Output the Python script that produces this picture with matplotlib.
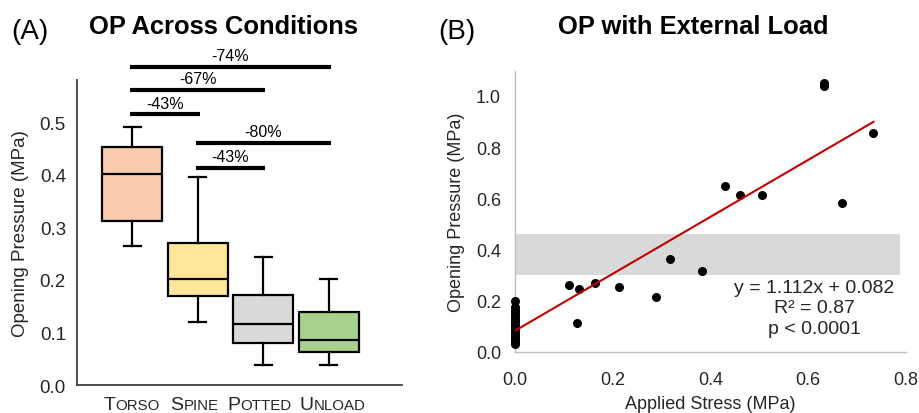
import matplotlib.pyplot as plt
from matplotlib.offsetbox import TextArea, HPacker, AnnotationBbox

plt.rcParams['font.family'] = ['Liberation Sans', 'DejaVu Sans']

# ---- panel A: box summaries ----
conditions = ["Torso", "Spine", "Potted", "Unload"]
box_colors = ["#F8CBAD", "#FFE699", "#D9D9D9", "#A9D18E"]
whislo = [0.264, 0.120, 0.038, 0.038]
q1 = [0.312, 0.169, 0.079, 0.063]
med = [0.402, 0.201, 0.116, 0.085]
q3 = [0.452, 0.271, 0.172, 0.138]
whishi = [0.491, 0.395, 0.243, 0.201]

# significance brackets: (from, to, height, label)
sig_from = [1, 1, 1, 2, 2]
sig_to = [4, 3, 2, 4, 3]
sig_y = [0.605, 0.561, 0.515, 0.460, 0.413]
sig_lab = ["-74%", "-67%", "-43%", "-80%", "-43%"]

# ---- panel B: scatter ----
stress = [0.632, 0.633, 0.734, 0.431, 0.460, 0.506, 0.669, 0.317, 0.383,
          0.110, 0.131, 0.164, 0.213, 0.289, 0.127,
          0, 0, 0, 0, 0, 0, 0, 0, 0, 0, 0, 0, 0, 0, 0, 0, 0, 0]
pressure = [1.049, 1.039, 0.854, 0.647, 0.613, 0.613, 0.583, 0.363, 0.316,
            0.260, 0.247, 0.270, 0.254, 0.212, 0.111,
            0.199, 0.175, 0.165, 0.155, 0.145, 0.135, 0.125, 0.115, 0.105,
            0.095, 0.085, 0.075, 0.068, 0.060, 0.052, 0.045, 0.038, 0.032]
slope, intercept = 1.112, 0.082
band = (0.30, 0.46)

fig = plt.figure(figsize=(9.19, 4.14), dpi=100)
axA = fig.add_axes([0.0838, 0.0676, 0.3536, 0.7367])
axB = fig.add_axes([0.5604, 0.148, 0.4251, 0.6787])

# --- A ---
stats = []
for i, name in enumerate(conditions):
    stats.append(dict(label=name, whislo=whislo[i], q1=q1[i], med=med[i],
                      q3=q3[i], whishi=whishi[i], fliers=[]))
bp = axA.bxp(stats, positions=[1, 2, 3, 4], widths=0.92, patch_artist=True,
             showfliers=False,
             boxprops=dict(linewidth=1.6, edgecolor='black'),
             medianprops=dict(color='black', linewidth=1.6),
             whiskerprops=dict(linewidth=1.6),
             capprops=dict(linewidth=1.6))
for patch, c in zip(bp['boxes'], box_colors):
    patch.set_facecolor(c)
for cap in bp['caps']:
    x0, x1 = cap.get_xdata()
    xc = (x0 + x1) / 2
    cap.set_xdata([xc - 0.13, xc + 0.13])

axA.set_xlim(0.154, 5.12)
axA.set_ylim(0, 0.58)
axA.set_yticks([0, 0.1, 0.2, 0.3, 0.4, 0.5])
axA.set_yticklabels(["0.0", "0.1", "0.2", "0.3", "0.4", "0.5"])
axA.set_xticks([])
axA.tick_params(axis='y', length=0, labelsize=13.5, pad=8, colors='#262626')
for s in ['top', 'right']:
    axA.spines[s].set_visible(False)
for s in ['left', 'bottom']:
    axA.spines[s].set_color('#404040')
    axA.spines[s].set_linewidth(1.3)
axA.set_ylabel("Opening Pressure (MPa)", fontsize=13.5, color='#262626', labelpad=8)

for a, b, y, lab in zip(sig_from, sig_to, sig_y, sig_lab):
    axA.plot([a - 0.03, b + 0.03], [y, y], color='black', lw=3, clip_on=False,
             solid_capstyle='butt')
    axA.text((a + b) / 2, y + 0.007, lab, ha='center', va='bottom',
             fontsize=11.5, clip_on=False)

# small caps tick labels (slight horizontal nudges as in the original)
label_nudge = [-0.5, -2.5, -2.5, 3.0]
for i, name in enumerate(conditions):
    up = name.upper()
    box = HPacker(children=[TextArea(up[0], textprops=dict(size=14, color='#262626')),
                            TextArea(up[1:], textprops=dict(size=10.8, color='#262626'))],
                  align='baseline', pad=0, sep=0)
    ab = AnnotationBbox(box, (i + 1, 0), xycoords=('data', 'axes fraction'),
                        xybox=(label_nudge[i], -8.2), boxcoords='offset points',
                        box_alignment=(0.5, 1), frameon=False)
    axA.add_artist(ab)

fig.text(0.243, 0.935, "OP Across Conditions", ha='center', va='center',
         fontsize=18.4, fontweight='bold')
fig.text(0.012, 0.922, "(A)", ha='left', va='center', fontsize=20)

# --- B ---
axB.axhspan(band[0], band[1], xmin=0, xmax=0.787 / 0.798, color='#D9D9D9', lw=0, zorder=1)
axB.scatter(stress, pressure, s=30, color='black', zorder=3, clip_on=False)
xfit = [0, max(stress)]
yfit = [slope * v + intercept for v in xfit]
axB.plot(xfit, yfit, color='#C00000', lw=1.5, zorder=4)
axB.set_xlim(0, 0.798)
axB.set_ylim(0, 1.098)
axB.set_xticks([0, 0.2, 0.4, 0.6, 0.8])
axB.set_xticklabels(["0.0", "0.2", "0.4", "0.6", "0.8"])
axB.set_yticks([0, 0.2, 0.4, 0.6, 0.8, 1.0])
axB.set_yticklabels(["0.0", "0.2", "0.4", "0.6", "0.8", "1.0"])
axB.tick_params(length=0, labelsize=13, colors='#262626')
axB.tick_params(axis='y', pad=10)
axB.tick_params(axis='x', pad=14)
for s in ['top', 'right']:
    axB.spines[s].set_visible(False)
for s in ['left', 'bottom']:
    axB.spines[s].set_color('#BFBFBF')
    axB.spines[s].set_linewidth(1)
axB.set_xlabel("Applied Stress (MPa)", fontsize=13, color='#262626', labelpad=5)
axB.set_ylabel("Opening Pressure (MPa)", fontsize=13, color='#262626', labelpad=8)
axB.text(0.613, 0.171, f"y = {slope:.3f}x + {intercept:.3f}\nR² = 0.87\np < 0.0001",
         ha='center', va='center', fontsize=14, color='#262626',
         linespacing=1.25)

fig.text(0.754, 0.935, "OP with External Load", ha='center', va='center',
         fontsize=18.4, fontweight='bold')
fig.text(0.477, 0.922, "(B)", ha='left', va='center', fontsize=20)

fig.savefig("out.png", dpi=100)
